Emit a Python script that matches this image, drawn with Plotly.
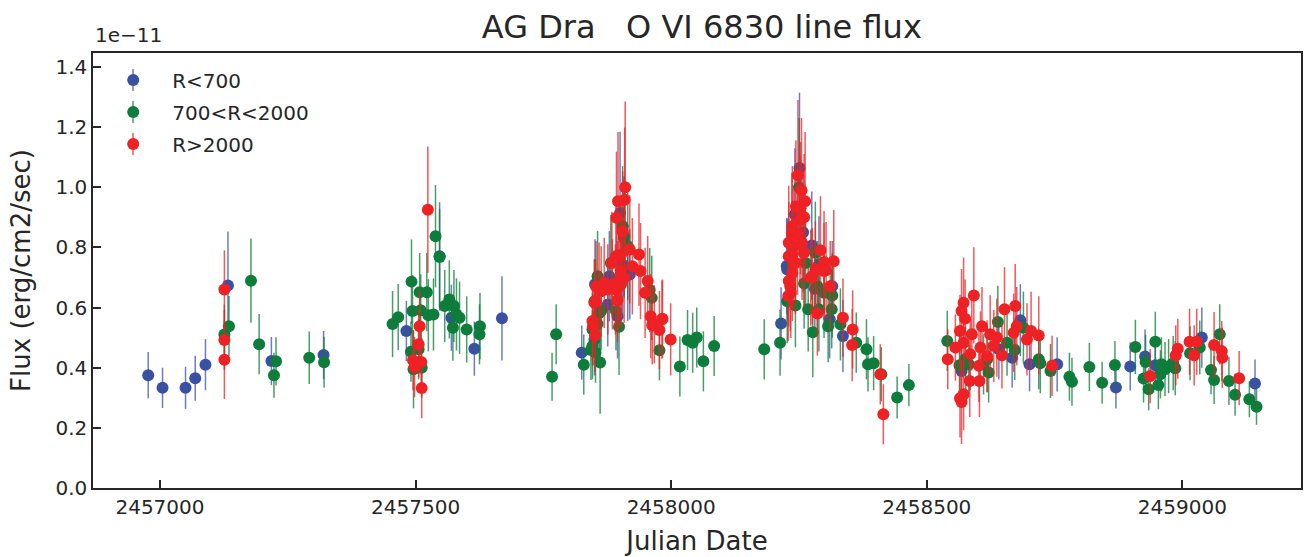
import plotly.graph_objects as go

# ---------------- data (flux in units of 1e-11 erg/cm2/sec) ----------------
series_names = ["R<700", "700<R<2000", "R>2000"]
series_colors = ["#3a51a3", "#0e7c3a", "#ee2124"]
error_colors = ["rgba(58,81,163,0.75)", "rgba(14,124,58,0.75)", "rgba(238,33,36,0.75)"]

blue_jd = [2456977, 2457005, 2457050, 2457069, 2457089, 2457133, 2457218, 2457320,
           2457482, 2457547, 2457570, 2457615, 2457669, 2457825, 2457850, 2457851,
           2457876, 2457879, 2457895, 2457900, 2457908, 2457905, 2457915, 2457919,
           2458215, 2458227, 2458226, 2458242, 2458251, 2458258, 2458275, 2458289,
           2458281, 2458315, 2458310, 2458336, 2458568, 2458667, 2458641, 2458683,
           2458701, 2458755, 2458870, 2458898, 2458927, 2458947, 2459038, 2459142]
blue_flux = [0.375, 0.333, 0.333, 0.365, 0.410, 0.673, 0.422, 0.442,
             0.522, 0.770, 0.566, 0.463, 0.564, 0.450, 0.494, 0.677,
             0.610, 0.704, 0.571, 0.914, 0.831, 0.743, 0.715, 0.710,
             0.547, 0.726, 0.738, 0.909, 1.064, 0.850, 0.806, 0.743,
             0.662, 0.671, 0.561, 0.505, 0.389, 0.433, 0.461, 0.558,
             0.411, 0.411, 0.334, 0.404, 0.437, 0.408, 0.500, 0.347]
blue_err = [0.077, 0.067, 0.070, 0.075, 0.085, 0.180, 0.080, 0.080,
            0.100, 0.180, 0.110, 0.090, 0.140, 0.090, 0.120, 0.150,
            0.140, 0.150, 0.140, 0.270, 0.200, 0.180, 0.160, 0.150,
            0.120, 0.170, 0.160, 0.220, 0.250, 0.200, 0.180, 0.160,
            0.150, 0.150, 0.130, 0.120, 0.090, 0.100, 0.100, 0.120,
            0.090, 0.090, 0.070, 0.080, 0.090, 0.080, 0.100, 0.080]

green_jd = [2457126, 2457135, 2457178, 2457194, 2457223, 2457227, 2457292, 2457321,
            2457455, 2457466, 2457492, 2457494, 2457491, 2457496, 2457508, 2457522,
            2457510, 2457525, 2457535, 2457506, 2457512, 2457539, 2457547, 2457557,
            2457566, 2457575, 2457580, 2457586, 2457573, 2457600, 2457626, 2457625,
            2457775, 2457767, 2457829, 2457843, 2457861, 2457846, 2457856, 2457863,
            2457882, 2457908, 2457915, 2457958, 2457962, 2457892, 2457898, 2457859,
            2457856, 2457846, 2457852, 2457905, 2457850, 2457977, 2458017, 2458032,
            2458042, 2458050, 2458063, 2458084, 2458182, 2458213, 2458227, 2458243,
            2458250, 2458282, 2458263, 2458260, 2458286, 2458299, 2458315, 2458268,
            2458289, 2458314, 2458307, 2458277, 2458331, 2458362, 2458382, 2458385,
            2458396, 2458411, 2458442, 2458465, 2458540, 2458564, 2458582, 2458576,
            2458611, 2458618, 2458621, 2458639, 2458657, 2458672, 2458689, 2458719,
            2458722, 2458742, 2458779, 2458784, 2458818, 2458843, 2458868, 2458908,
            2458928, 2458947, 2458924, 2458934, 2458953, 2458959, 2458966, 2458973,
            2458982, 2458957, 2458986, 2459015, 2459034, 2459073, 2459056, 2459062,
            2459091, 2459103, 2459131, 2459145]
green_flux = [0.510, 0.538, 0.689, 0.478, 0.375, 0.421, 0.433, 0.418,
              0.545, 0.568, 0.686, 0.588, 0.453, 0.395, 0.651, 0.651,
              0.591, 0.574, 0.577, 0.461, 0.400, 0.837, 0.768, 0.605,
              0.627, 0.605, 0.577, 0.566, 0.533, 0.527, 0.538, 0.511,
              0.511, 0.370, 0.410, 0.459, 0.417, 0.527, 0.704, 0.588,
              0.748, 0.837, 0.804, 0.658, 0.632, 0.588, 0.536, 0.582,
              0.545, 0.472, 0.450, 0.870, 0.621, 0.458, 0.404, 0.492,
              0.483, 0.500, 0.421, 0.472, 0.461, 0.483, 0.621, 0.607,
              1.000, 0.782, 0.748, 0.680, 0.671, 0.649, 0.640, 0.594,
              0.594, 0.594, 0.538, 0.518, 0.544, 0.483, 0.461, 0.411,
              0.415, 0.378, 0.301, 0.342, 0.489, 0.408, 0.411, 0.430,
              0.411, 0.428, 0.384, 0.552, 0.483, 0.459, 0.533, 0.428,
              0.415, 0.389, 0.370, 0.353, 0.402, 0.350, 0.409, 0.469,
              0.419, 0.486, 0.364, 0.328, 0.342, 0.411, 0.395, 0.405,
              0.415, 0.378, 0.398, 0.448, 0.467, 0.511, 0.392, 0.359,
              0.356, 0.310, 0.295, 0.270]
green_err = [0.100, 0.100, 0.140, 0.100, 0.075, 0.080, 0.087, 0.085,
             0.110, 0.110, 0.140, 0.120, 0.100, 0.130, 0.130, 0.130,
             0.120, 0.120, 0.120, 0.100, 0.100, 0.170, 0.160, 0.120,
             0.130, 0.120, 0.120, 0.120, 0.110, 0.110, 0.110, 0.100,
             0.100, 0.080, 0.100, 0.100, 0.170, 0.120, 0.150, 0.130,
             0.160, 0.200, 0.180, 0.140, 0.140, 0.130, 0.160, 0.130,
             0.120, 0.110, 0.100, 0.200, 0.140, 0.100, 0.100, 0.100,
             0.100, 0.100, 0.100, 0.100, 0.100, 0.110, 0.140, 0.140,
             0.230, 0.170, 0.170, 0.150, 0.150, 0.150, 0.140, 0.140,
             0.140, 0.130, 0.120, 0.150, 0.120, 0.100, 0.100, 0.090,
             0.090, 0.090, 0.070, 0.070, 0.100, 0.100, 0.100, 0.110,
             0.100, 0.110, 0.100, 0.120, 0.110, 0.100, 0.120, 0.100,
             0.100, 0.090, 0.080, 0.080, 0.080, 0.070, 0.080, 0.090,
             0.090, 0.100, 0.080, 0.070, 0.080, 0.090, 0.090, 0.090,
             0.090, 0.080, 0.090, 0.090, 0.090, 0.100, 0.080, 0.080,
             0.080, 0.070, 0.060, 0.060]

red_jd = [2457126, 2457126, 2457126, 2457524, 2457508, 2457506, 2457495, 2457498,
          2457511, 2457512, 2457846, 2457851, 2457852, 2457859, 2457869, 2457893,
          2457896, 2457909, 2457910, 2457905, 2457892, 2457902, 2457919, 2457937,
          2457884, 2457902, 2457898, 2457908, 2457885, 2457891, 2457940, 2457954,
          2457949, 2457895, 2457960, 2457963, 2457983, 2457977, 2457999, 2457924,
          2457876, 2457853, 2457863, 2457850, 2457847, 2457895, 2457902, 2457967,
          2457982, 2458248, 2458255, 2458262, 2458244, 2458253, 2458260, 2458252,
          2458237, 2458236, 2458247, 2458256, 2458230, 2458240, 2458237, 2458260,
          2458230, 2458292, 2458318, 2458299, 2458243, 2458237, 2458299, 2458276,
          2458273, 2458230, 2458233, 2458311, 2458234, 2458229, 2458286, 2458336,
          2458355, 2458354, 2458409, 2458415, 2458303, 2458282, 2458541, 2458592,
          2458572, 2458568, 2458575, 2458565, 2458556, 2458572, 2458588, 2458585,
          2458602, 2458618, 2458608, 2458624, 2458637, 2458631, 2458605, 2458572,
          2458565, 2458568, 2458584, 2458603, 2458652, 2458673, 2458676, 2458670,
          2458704, 2458719, 2458696, 2458647, 2458745, 2458937, 2458987, 2458991,
          2459014, 2459028, 2459023, 2459062, 2459077, 2459078, 2459111]
red_flux = [0.660, 0.492, 0.426, 0.925, 0.538, 0.478, 0.425, 0.402,
            0.419, 0.332, 0.555, 0.507, 0.620, 0.666, 0.682, 0.898,
            0.953, 0.958, 1.000, 0.853, 0.770, 0.776, 0.793, 0.776,
            0.748, 0.721, 0.688, 0.699, 0.677, 0.660, 0.721, 0.688,
            0.649, 0.625, 0.571, 0.541, 0.563, 0.525, 0.494, 0.737,
            0.660, 0.671, 0.654, 0.616, 0.538, 0.671, 0.677, 0.544,
            0.560, 1.040, 0.990, 0.953, 0.936, 0.930, 0.900, 0.892,
            0.870, 0.848, 0.842, 0.815, 0.815, 0.804, 0.776, 0.782,
            0.770, 0.790, 0.754, 0.751, 0.748, 0.715, 0.721, 0.704,
            0.699, 0.688, 0.671, 0.671, 0.649, 0.638, 0.580, 0.566,
            0.527, 0.475, 0.378, 0.245, 0.724, 0.726, 0.428, 0.640,
            0.616, 0.588, 0.563, 0.522, 0.467, 0.483, 0.511, 0.445,
            0.406, 0.438, 0.538, 0.511, 0.500, 0.472, 0.467, 0.312,
            0.298, 0.286, 0.356, 0.356, 0.594, 0.605, 0.538, 0.516,
            0.522, 0.507, 0.494, 0.441, 0.406, 0.372, 0.441, 0.463,
            0.486, 0.486, 0.441, 0.475, 0.455, 0.433, 0.365]
red_err = [0.130, 0.100, 0.130, 0.210, 0.120, 0.110, 0.100, 0.100,
           0.100, 0.100, 0.130, 0.120, 0.140, 0.150, 0.150, 0.220,
           0.230, 0.240, 0.285, 0.200, 0.170, 0.170, 0.180, 0.170,
           0.170, 0.160, 0.150, 0.150, 0.150, 0.150, 0.160, 0.150,
           0.150, 0.140, 0.140, 0.130, 0.130, 0.130, 0.120, 0.160,
           0.150, 0.150, 0.150, 0.140, 0.130, 0.150, 0.150, 0.130,
           0.130, 0.250, 0.240, 0.230, 0.220, 0.220, 0.210, 0.210,
           0.200, 0.200, 0.200, 0.190, 0.190, 0.190, 0.180, 0.180,
           0.180, 0.180, 0.170, 0.170, 0.170, 0.160, 0.160, 0.160,
           0.160, 0.150, 0.150, 0.150, 0.150, 0.150, 0.140, 0.130,
           0.130, 0.120, 0.100, 0.100, 0.160, 0.160, 0.100, 0.160,
           0.150, 0.140, 0.130, 0.120, 0.110, 0.120, 0.120, 0.120,
           0.120, 0.120, 0.130, 0.130, 0.130, 0.120, 0.120, 0.120,
           0.130, 0.140, 0.120, 0.120, 0.140, 0.140, 0.130, 0.130,
           0.130, 0.130, 0.120, 0.110, 0.100, 0.090, 0.100, 0.100,
           0.110, 0.110, 0.100, 0.110, 0.100, 0.100, 0.090]

x_tick_vals = [2457000, 2457500, 2458000, 2458500, 2459000]
x_tick_text = ["2457000", "2457500", "2458000", "2458500", "2459000"]
y_tick_vals = [0.0, 0.2, 0.4, 0.6, 0.8, 1.0, 1.2, 1.4]
y_tick_text = ["0.0", "0.2", "0.4", "0.6", "0.8", "1.0", "1.2", "1.4"]

# ---------------- figure ----------------
FONT = "DejaVu Sans"
TXT = "#262626"

fig = go.Figure()
all_series = [(blue_jd, blue_flux, blue_err), (green_jd, green_flux, green_err),
              (red_jd, red_flux, red_err)]
for i, (xs, ys, es) in enumerate(all_series):
    fig.add_trace(go.Scatter(
        x=xs, y=ys, mode="markers", name=series_names[i],
        marker=dict(size=12, color=series_colors[i], line=dict(width=0)),
        error_y=dict(type="data", array=es, visible=True, width=0,
                     thickness=1.5, color=error_colors[i]),
        legendgroup="g%d" % i,
    ))

axis_common = dict(
    showgrid=False, zeroline=False, showline=True, linecolor=TXT, linewidth=1.5,
    mirror=True, ticks="inside", ticklen=8, tickwidth=1.5, tickcolor=TXT,
    tickfont=dict(family=FONT, size=20, color=TXT),
)

fig.update_layout(
    width=1305, height=557,
    paper_bgcolor="white", plot_bgcolor="white",
    margin=dict(l=93, r=2, t=53, b=69),
    font=dict(family=FONT, color=TXT),
    title=dict(text="AG Dra   O VI 6830 line flux", x=0.504, xref="paper",
               xanchor="center", y=1 - 27 / 557, yanchor="middle", yref="container",
               font=dict(family=FONT, size=32, color=TXT)),
    xaxis=dict(range=[2456869, 2459232], tickvals=x_tick_vals, ticktext=x_tick_text,
               title=dict(text="Julian Date", font=dict(family=FONT, size=26, color=TXT),
                          standoff=14),
               **axis_common),
    yaxis=dict(range=[0, 1.446], tickvals=y_tick_vals, ticktext=y_tick_text,
               title=dict(text="Flux (erg/cm2/sec)", font=dict(family=FONT, size=26, color=TXT),
                          standoff=17),
               **axis_common),
    legend=dict(x=0.001, y=0.983, xanchor="left", yanchor="top",
                bgcolor="rgba(0,0,0,0)", borderwidth=0,
                font=dict(family=FONT, size=20, color=TXT),
                tracegroupgap=3, itemwidth=68),
    showlegend=True,
)

# error-bar glyphs through the legend markers (matplotlib style legend handles)
for i, yc in enumerate([0.9379, 0.8644, 0.7908]):
    fig.add_shape(type="line", xref="paper", yref="paper",
                  x0=0.0331, x1=0.0331, y0=yc - 0.0253, y1=yc + 0.0253,
                  line=dict(color=error_colors[i], width=1.5), layer="above")

fig.add_annotation(text="1e\u221211", xref="paper", yref="paper", x=0, y=1,
                   xanchor="left", yanchor="bottom", yshift=4, showarrow=False,
                   font=dict(family=FONT, size=20, color=TXT))

fig.write_html("out.html")
